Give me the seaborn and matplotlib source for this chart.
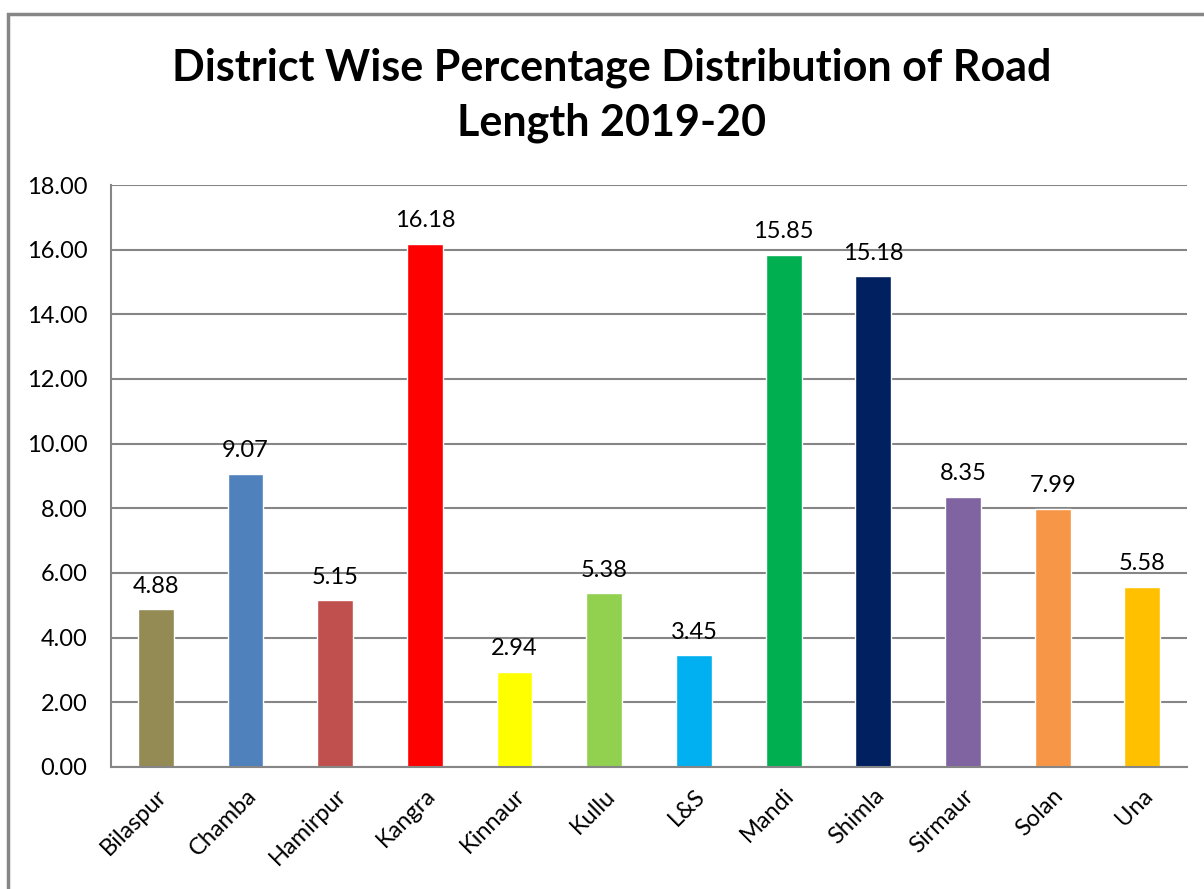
import pandas as pd
import matplotlib.pyplot as plt
import matplotlib.patches as mpatches
import seaborn as sns

# Data
districts = ["Bilaspur", "Chamba", "Hamirpur", "Kangra", "Kinnaur", "Kullu",
             "L&S", "Mandi", "Shimla", "Sirmaur", "Solan", "Una"]
percent = [4.88, 9.07, 5.15, 16.18, 2.94, 5.38, 3.45, 15.85, 15.18, 8.35, 7.99, 5.58]
bar_colors = ["#948A54", "#4F81BD", "#C0504D", "#FF0000", "#FFFF00", "#92D050",
              "#00B0F0", "#00B050", "#002060", "#8064A2", "#F79646", "#FFC000"]

df = pd.DataFrame({"district": districts, "percent": percent})

sns.set_theme(style="white")
plt.rcParams['font.family'] = ['Lato', 'DejaVu Sans']
plt.rcParams['text.color'] = 'black'
plt.rcParams['xtick.color'] = 'black'
plt.rcParams['ytick.color'] = 'black'

fig = plt.figure(figsize=(12.04, 8.89), dpi=100)
ax = fig.add_axes([0.0922, 0.1373, 0.8938, 0.6546])

sns.barplot(data=df, x="district", y="percent", hue="district",
            palette=bar_colors, width=0.4, legend=False, saturation=1, ax=ax)

ax.set_ylim(0, 18)
ax.set_yticks(range(0, 19, 2))
ax.set_yticklabels([f"{v:.2f}" for v in range(0, 19, 2)], fontsize=17)
ax.set_xlim(-0.5, len(districts) - 0.5)
ax.yaxis.grid(True, color="#868686", linewidth=1.5)
ax.set_axisbelow(True)
ax.set_xlabel("")
ax.set_ylabel("")
plt.setp(ax.get_xticklabels(), rotation=45, ha="right", rotation_mode="anchor", fontsize=17)
ax.tick_params(axis="y", length=0, pad=17)
ax.tick_params(axis="x", length=0, pad=13)

for s in ["top", "right"]:
    ax.spines[s].set_visible(False)
for s in ["left", "bottom"]:
    ax.spines[s].set_color("#868686")
    ax.spines[s].set_linewidth(1.5)

# Value labels
for i, v in enumerate(percent):
    ax.annotate(f"{v:.2f}", (i, v), xytext=(0, 9), textcoords="offset points",
                ha="center", va="bottom", fontsize=17)

fig.text(0.508, 0.947, "District Wise Percentage Distribution of Road\nLength 2019-20",
         fontsize=31, fontweight="bold", ha="center", va="top", linespacing=1.45)

# Outer chart frame
frame = mpatches.Rectangle((8 / 1204, -0.1), 2, 1 - 14 / 889 + 0.1,
                           transform=fig.transFigure, fill=False,
                           edgecolor="#868686", linewidth=2.5, clip_on=False)
fig.patches.append(frame)

plt.savefig("out.png", dpi=100)
plt.close()
